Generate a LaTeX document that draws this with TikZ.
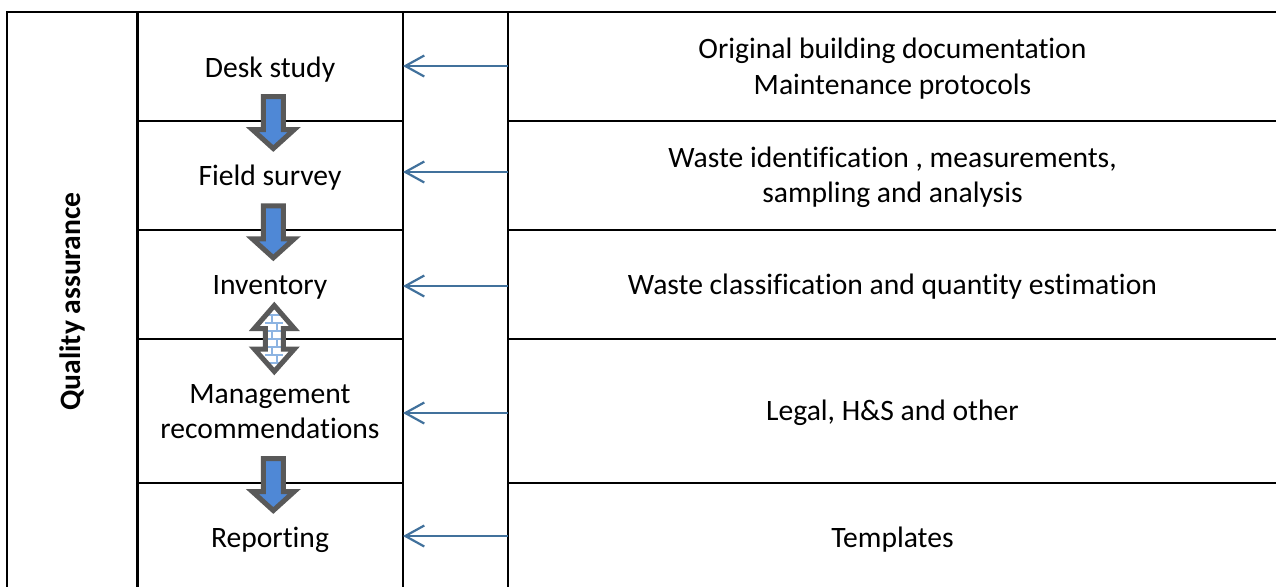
\documentclass[tikz,border=0pt]{standalone}
\usepackage{fontspec}
\setmainfont{Carlito}[Ligatures=NoCommon]
\usepackage{tikz}
\usetikzlibrary{arrows.meta}
\definecolor{feedblue}{HTML}{41719C}
\definecolor{downblue}{HTML}{4F88D6}
\definecolor{downgray}{HTML}{595959}
\definecolor{brickblue}{HTML}{8DB4E2}

\begin{document}
\begin{tikzpicture}[x=0.5pt,y=-0.5pt,very thick,
		every node/.style={font=\fontsize{14.8}{17.6}\selectfont,inner sep=0pt},
		stage/.style={anchor=base,align=center},
		feed/.style={draw=feedblue,line width=1.1pt,-{Straight Barb[length=9.5pt,width=10.5pt]}},
		down/.style={draw=downgray,line width=2.5pt,fill=downblue,line join=miter},
		both/.style={draw=downgray,line width=2.5pt,fill=white,line join=miter,
			path picture={\foreach \yy in {-24,-16,...,24} \draw[brickblue,line width=1pt] (-9,\yy) -- (9,\yy);
			\foreach \yy/\xx in {-20/-2,-12/3,-4/-2,4/3,12/-2,20/3} \draw[brickblue,line width=1pt] (\xx,\yy-4) -- (\xx,\yy+4);}}]
		\useasboundingbox (0,0) rectangle (1276,586);
		\draw (7,12) rectangle (137.3,600);
		\draw (403,12) rectangle (508,600);
		\foreach \ya/\yb in {12/120.7,120.7/230,230/339,339/482.7,482.7/600}
		{\draw (137.3,\ya) rectangle (403,\yb);
		\draw (508,\ya) rectangle (1290,\yb);}
		\node (qa) at (72,301.5) [rotate=90,font=\fontsize{14.8}{17.6}\selectfont\bfseries] {Quality assurance};
		\node (desk) at (270,77) [stage] {Desk study};
		\node (field) at (270,185) [stage] {Field survey};
		\node (inv) at (270,294) [stage] {Inventory};
		\node (mgmt) at (270,438.3) [stage] {Management\\recommendations};
		\node (rep) at (270,547) [stage] {Reporting};
		\node (docs) at (892.5,94) [stage] {Original building documentation\\Maintenance protocols};
		\node (waste) at (892.5,202.7) [stage] {Waste identification , measurements,\\sampling and analysis};
		\node (class) at (892.5,294) [stage] {Waste classification and quantity estimation};
		\node (legal) at (892.5,420.7) [stage] {Legal, H\&S and other};
		\node (templ) at (892.5,547) [stage] {Templates};
		\foreach \y [count=\i] in {66,172,286,413,536}
		{\coordinate (from\i) at (508,\y);
		\coordinate (to\i) at (403,\y);
		\draw[feed] (from\i) -- (to\i);}
		\foreach \x/\y in {273.3/122.5,273.3/231.8,273.3/484.5}
		\draw[down,shift={(\x,\y)}] (-10,-26) -- (10,-26) -- (10,7) -- (21,7) -- (0,26) -- (-21,7) -- (-10,7) -- cycle;
		\draw[both,shift={(274.3,338.5)}] (0,-33) -- (20,-10) -- (9,-10) -- (9,10.5) -- (20,10.5) -- (0,33) -- (-20,10.5) -- (-9,10.5) -- (-9,-10) -- (-20,-10) -- cycle;
\end{tikzpicture}
\end{document}
